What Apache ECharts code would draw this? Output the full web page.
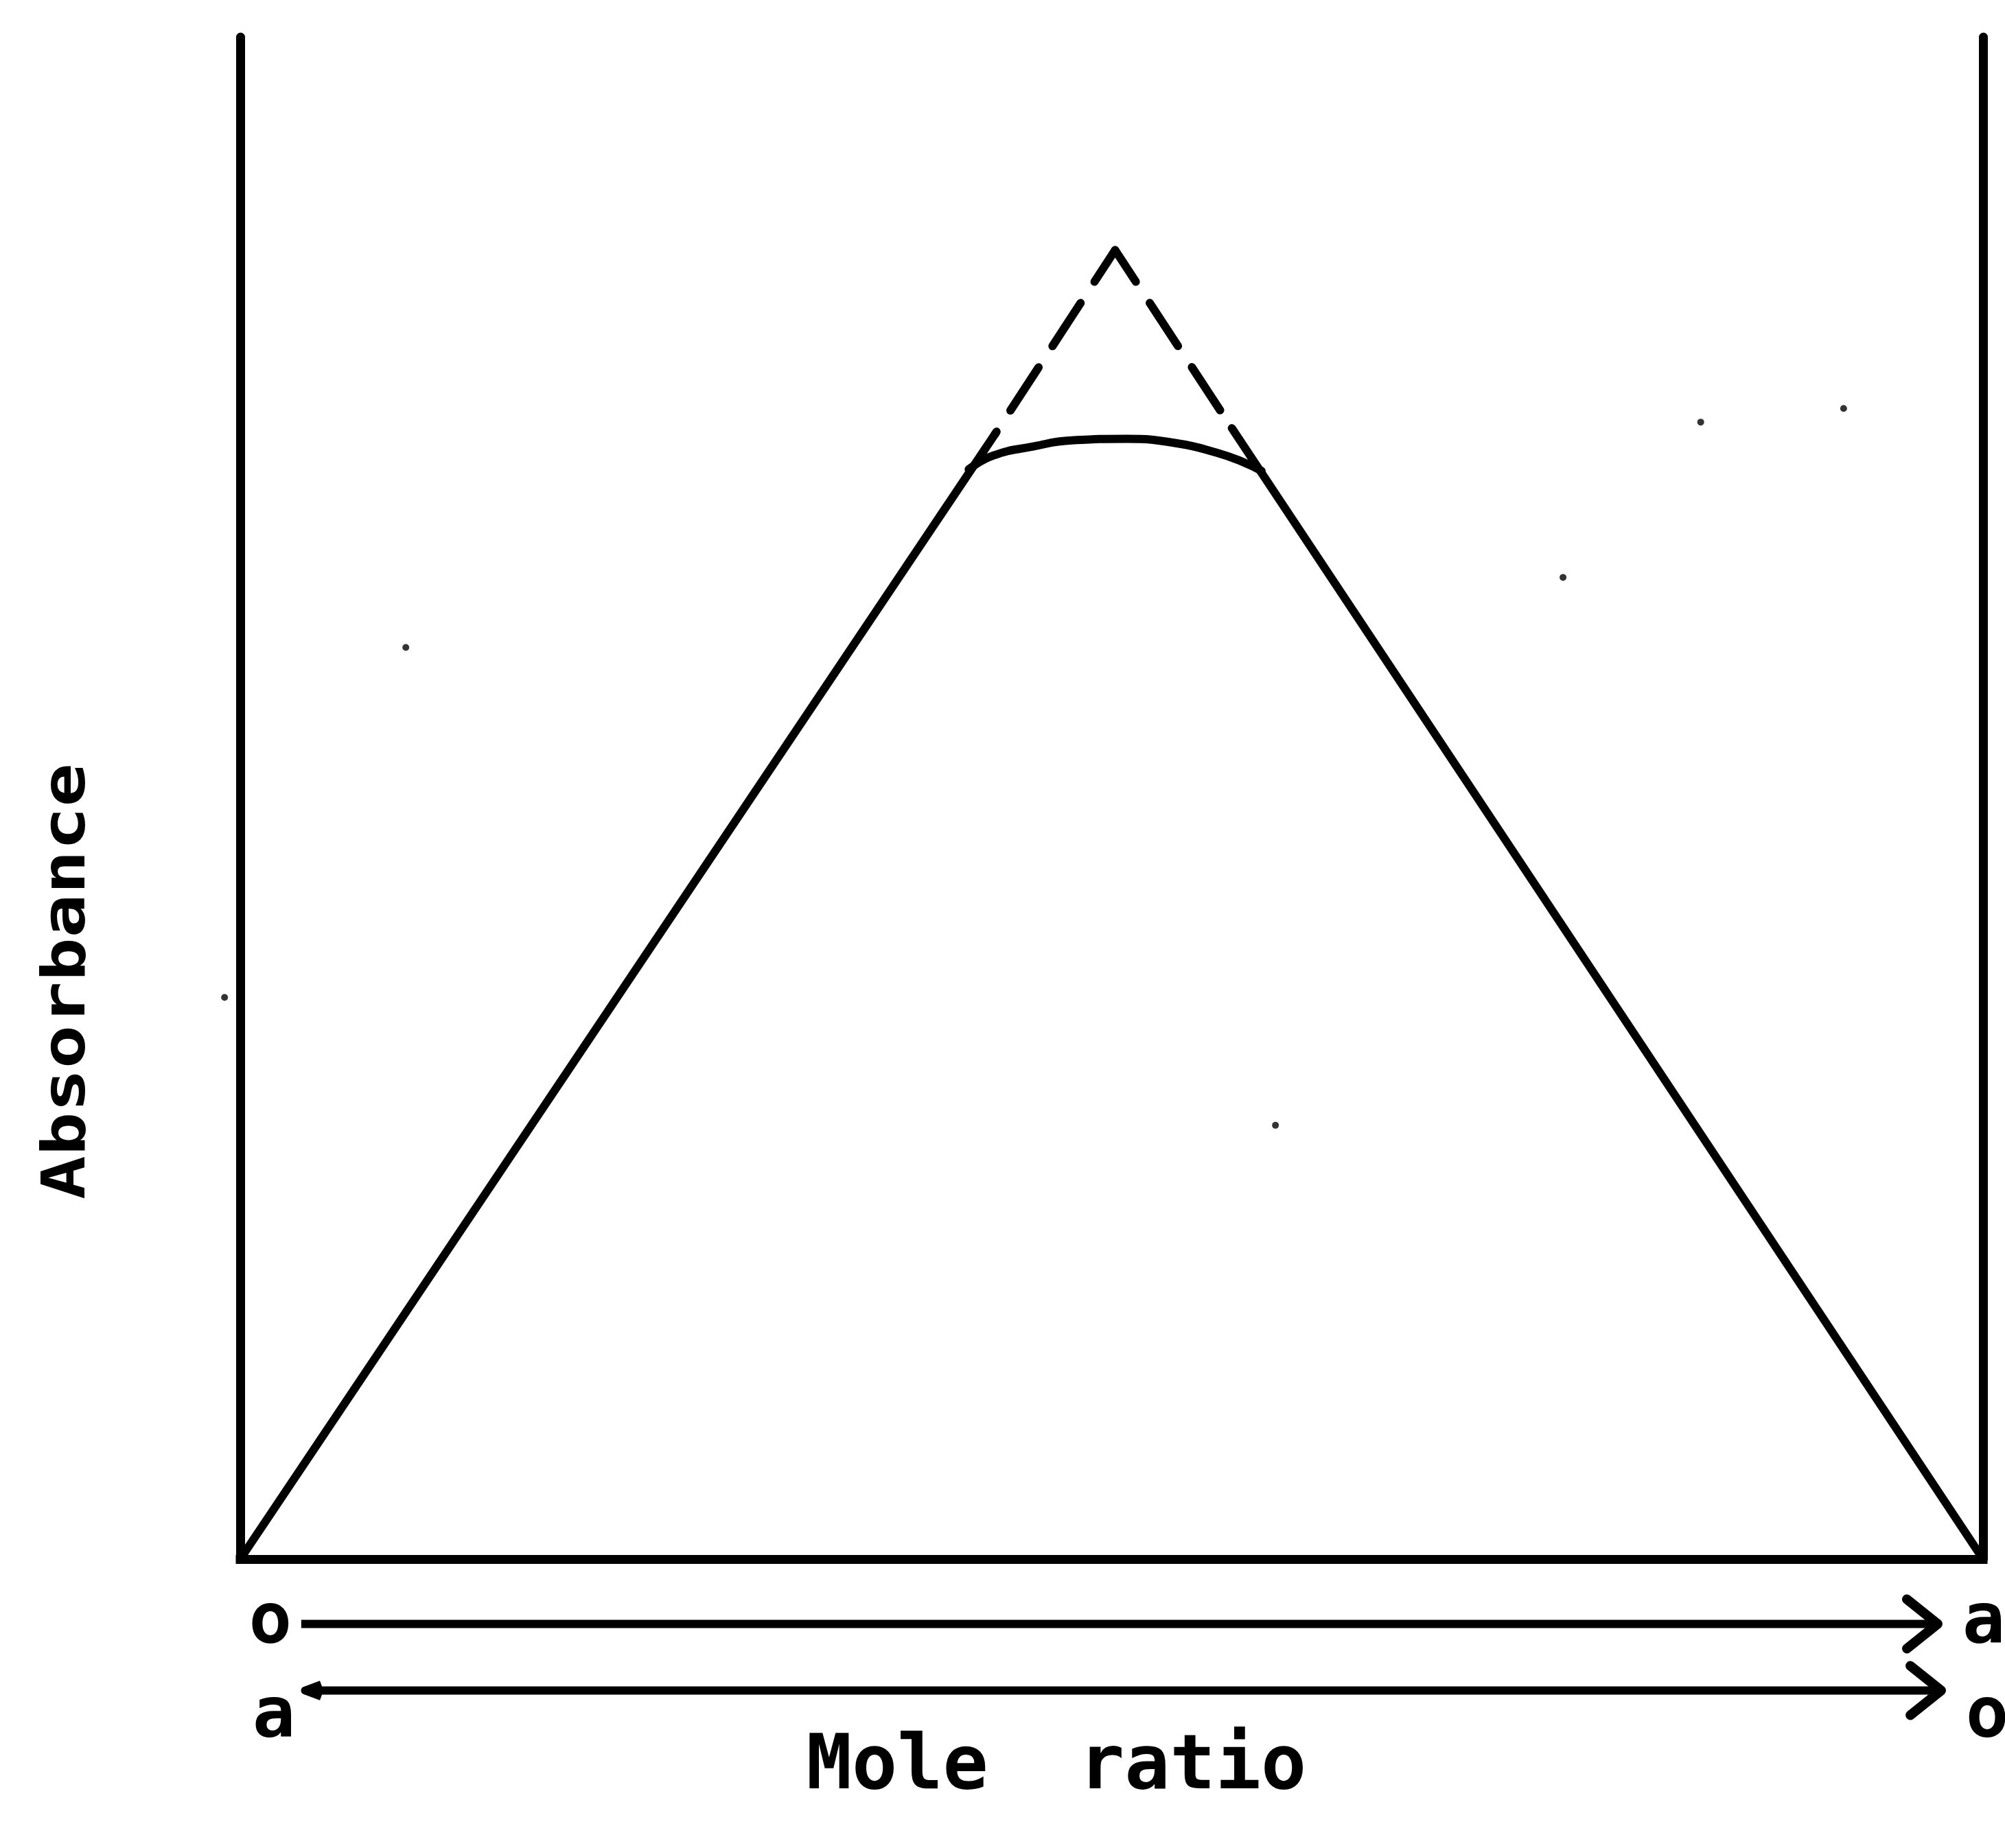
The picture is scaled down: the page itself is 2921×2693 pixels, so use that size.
<!DOCTYPE html>
<html>
<head>
<meta charset="utf-8">
<title>Mole ratio – Absorbance</title>
<script src="https://cdn.jsdelivr.net/npm/echarts@6/dist/echarts.min.js"></script>
<style>
  html, body { margin: 0; padding: 0; background: #fff; }
  #chart { width: 2921px; height: 2693px; }
</style>
</head>
<body>
<div id="chart"></div>
<script>
// Straight portions of the measured absorbance (mole fraction, absorbance)
const legLeft = [[0, 0], [0.433, 0.739]];
const legRight = [[0.569, 0.743], [1, 0]];

// Rounded top of the measured curve
const curveX = [0.418, 0.432, 0.455, 0.477, 0.509, 0.538, 0.560, 0.575, 0.586];
const curveY = [0.716, 0.725, 0.731, 0.735, 0.736, 0.733, 0.727, 0.721, 0.715];

// Intersection of the two extrapolated straight lines
const apex = [0.502, 0.860];

// Small stray marks on the sheet
const specks = [[0.095, 0.599], [0.920, 0.756], [0.594, 0.285], [-0.009, 0.369], [0.838, 0.747], [0.759, 0.645]];

// Composition arrows under the x axis
const arrowRows = ['o → a', 'a → o'];
const arrowFrom = [0.035, 0.037];
const arrowTo = [0.974, 0.976];
const startLabels = ['o', 'a'];
const endLabels = ['a', 'o'];
const bothHeads = [false, true];

const FONT = '"DejaVu Sans Mono", "Liberation Mono", monospace';
const INK = '#000';

const chart = echarts.init(document.getElementById('chart'), null, { renderer: 'canvas' });

const curveData = curveX.map((x, i) => [x, curveY[i]]);
const arrowData = arrowRows.map((r, i) => [arrowFrom[i], arrowTo[i], i]);

const solid = { color: INK, width: 12, cap: 'round', join: 'round' };
const dashed = { color: INK, width: 12, type: [75, 37], dashOffset: 20, cap: 'round' };

function lineSeries(name, data, style, smooth) {
  return {
    name, type: 'line', data, xAxisIndex: 0, yAxisIndex: 0,
    showSymbol: false, symbol: 'none', smooth: smooth || false,
    lineStyle: style, silent: true, clip: false, z: 3
  };
}

const labelFont = 'bold 104px ' + FONT;

// Arrow rows: a line with an open chevron head, plus end letters
function renderArrow(params, api) {
  const i = params.dataIndex;
  const a = api.coord([api.value(0), i]);
  const b = api.coord([api.value(1), i]);
  const y = a[1];
  const labelDrop = [0, 40][i];
  const children = [
    { type: 'line', shape: { x1: a[0], y1: y, x2: b[0], y2: y },
      style: { stroke: INK, lineWidth: 12 } },
    { type: 'polyline', shape: { points: [[b[0] - 45, y - 36], [b[0], y], [b[0] - 45, y + 36]] },
      style: { stroke: INK, fill: null, lineWidth: 14, lineJoin: 'round', lineCap: 'round' } },
    { type: 'text', x: a[0] - 45, y: y + labelDrop,
      style: { text: startLabels[i], font: labelFont, fill: INK,
               align: 'center', verticalAlign: 'middle', textAlign: 'center', textVerticalAlign: 'middle' } },
    { type: 'text', x: b[0] + 67, y: y + labelDrop,
      style: { text: endLabels[i], font: labelFont, fill: INK,
               align: 'center', verticalAlign: 'middle', textAlign: 'center', textVerticalAlign: 'middle' } }
  ];
  if (bothHeads[i]) {
    children.push({ type: 'polyline', shape: { points: [[a[0] + 24, y - 9], [a[0], y], [a[0] + 24, y + 9]] },
      style: { stroke: INK, fill: null, lineWidth: 11, lineJoin: 'round' } });
  }
  return { type: 'group', children };
}

const axisLineStyle = { show: true, onZero: false, lineStyle: { color: INK, width: 13 } };

chart.setOption({
  backgroundColor: '#fff',
  animation: false,
  grid: [
    { left: 350, top: 54, width: 2539, height: 2218 },
    { left: 350, top: 2318, width: 2539, height: 194 }
  ],
  xAxis: [
    { gridIndex: 0, type: 'value', min: 0, max: 1,
      axisLine: { show: true, onZero: false, lineStyle: { color: INK, width: 13, cap: 'square' } },
      axisTick: { show: false }, axisLabel: { show: false }, splitLine: { show: false } },
    { gridIndex: 1, type: 'value', min: 0, max: 1, show: false }
  ],
  yAxis: [
    { gridIndex: 0, type: 'value', min: 0, max: 1, position: 'left',
      axisLine: axisLineStyle, axisTick: { show: false }, axisLabel: { show: false }, splitLine: { show: false } },
    { gridIndex: 0, type: 'value', min: 0, max: 1, position: 'right',
      axisLine: axisLineStyle, axisTick: { show: false }, axisLabel: { show: false }, splitLine: { show: false } },
    { gridIndex: 1, type: 'category', data: arrowRows, inverse: true, show: false }
  ],
  graphic: [
    { type: 'text', x: 1539, y: 2577, silent: true,
      style: { text: 'Mole  ratio', font: 'bold 110px ' + FONT, fill: INK,
               align: 'center', verticalAlign: 'middle', textAlign: 'center', textVerticalAlign: 'middle' } },
    { type: 'text', x: 100, y: 1430, rotation: Math.PI / 2, scaleX: 1.2, silent: true,
      style: { text: 'Absorbance', font: 'bold 88px ' + FONT, fill: INK,
               align: 'center', verticalAlign: 'middle', textAlign: 'center', textVerticalAlign: 'middle' } }
  ],
  series: [
    lineSeries('left branch', legLeft, solid),
    lineSeries('right branch', legRight, solid),
    lineSeries('measured top', curveData, solid, 0.5),
    lineSeries('extrapolation left', [apex, legLeft[1]], dashed),
    lineSeries('extrapolation right', [apex, legRight[0]], dashed),
    { name: 'specks', type: 'scatter', data: specks, xAxisIndex: 0, yAxisIndex: 0,
      symbol: 'circle', symbolSize: 10, itemStyle: { color: INK }, clip: false, silent: true },
    { name: 'composition', type: 'custom', coordinateSystem: 'cartesian2d',
      xAxisIndex: 1, yAxisIndex: 2, data: arrowData, encode: { x: [0, 1], y: 2 },
      renderItem: renderArrow, clip: false, silent: true }
  ]
});
</script>
</body>
</html>
